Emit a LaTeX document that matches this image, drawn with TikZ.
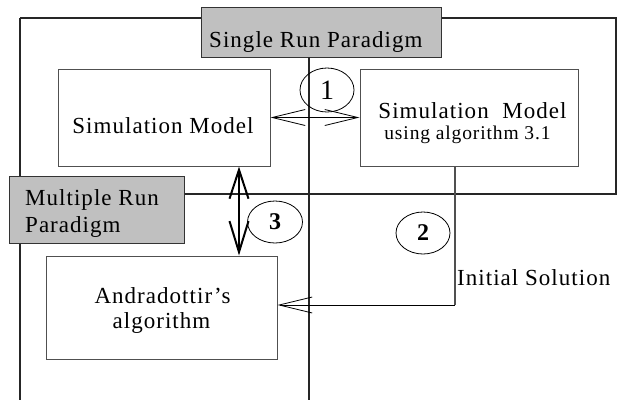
\documentclass[tikz,border=0pt]{standalone}
\usepackage{fontspec}
\setmainfont{Liberation Serif}[LetterSpace=4.5]
\usetikzlibrary{arrows.meta,shapes.geometric}
\definecolor{boxgray}{HTML}{C0C0C0}
\definecolor{edgegray}{HTML}{505050}
\begin{document}
\begin{tikzpicture}[x=1pt,y=-1pt,
  frameline/.style={draw=black!85, line width=1.1pt},
  whitebox/.style={draw=edgegray, line width=1pt, fill=white, inner sep=0pt},
  graybox/.style={draw=black!80, line width=1pt, fill=boxgray, inner sep=0pt},
  txt/.style={inner sep=0pt, font=\fontsize{23}{27}\selectfont},
  smalltxt/.style={inner sep=0pt, font=\fontsize{19.5}{23}\selectfont},
  numcirc/.style={ellipse, draw=black, line width=0.8pt, inner sep=0pt},
  thinarrow/.style={draw=black, line width=0.8pt, -{Straight Barb[length=33pt,width=16pt,line width=0.8pt]}},
  thinboth/.style={draw=black, line width=0.8pt, {Straight Barb[length=33pt,width=16pt,line width=0.8pt]}-{Straight Barb[length=33pt,width=16pt,line width=0.8pt]}},
  thickboth/.style={draw=black, line width=2pt, {Straight Barb[length=29pt,width=19pt,line width=2pt]}-{Straight Barb[length=31pt,width=19pt,line width=2pt]}}
]
\useasboundingbox (0,0) rectangle (621,400);

% frame corner coordinates
\coordinate (tl) at (20,18);
\coordinate (tr) at (616,18);
\coordinate (br) at (616,194);
\coordinate (bl) at (20,400);
\coordinate (mbot) at (309,400);

% outer frame lines
\draw[frameline] (tl) -- (tr) -- (br) -- (br -| tl);
\draw[frameline] (tl) -- (bl);

% paradigm boxes
\node[graybox, minimum width=240pt, minimum height=50pt] (srp) at (321,32) {};
\node[txt, anchor=base west] (srpT) at (209,47) {Single Run Paradigm};
\node[graybox, minimum width=175pt, minimum height=67pt] (mrp) at (96.5,209.5) {};
\node[txt, anchor=base west] (mrpT1) at (25,205) {Multiple Run};
\node[txt, anchor=base west] (mrpT2) at (25,232) {Paradigm};

% middle divider
\coordinate (mtop) at (309,57);
\draw[frameline] (mtop) -- (mbot);

% content boxes
\node[whitebox, minimum width=212pt, minimum height=97pt] (sim) at (164,117.5) {};
\node[txt, anchor=base] (simT) at (163,133) {Simulation Model};
\node[whitebox, minimum width=218pt, minimum height=97pt] (simR) at (469,117.5) {};
\node[txt, anchor=base] (simRT1) at (472.5,118) {Simulation\ \ Model};
\node[smalltxt, anchor=base] (simRT2) at (467.5,139) {using algorithm 3.1};
\node[whitebox, minimum width=231pt, minimum height=103pt] (andr) at (161.5,307.5) {};
\node[txt, anchor=base] (andrT1) at (162.5,303) {Andradottir’s};
\node[txt, anchor=base] (andrT2) at (161.5,328) {algorithm};

% connector 1 (double arrow between simulation models)
\draw[thinboth] (sim.east) -- (simR.west);

% connector 3 (thick double arrow)
\draw[thickboth] ([xshift=75pt]sim.south) -- ([xshift=77.5pt]andr.north);

% connector 2 (initial solution)
\coordinate (corner) at (455,305);
\draw[draw=edgegray, line width=1.4pt] ([xshift=-14pt]simR.south) -- (corner);
\draw[thinarrow] (corner) -- (andr.east |- corner);
\node[txt, anchor=base west] (initT) at (457,285) {Initial Solution};

% numbered ellipses
\node[numcirc, minimum width=54pt, minimum height=44pt, font=\fontsize{28}{28}\selectfont] (c1) at (327,90) {1};
\node[numcirc, minimum width=55pt, minimum height=42pt, font=\bfseries\fontsize{24}{24}\selectfont] (c3) at (275,222) {3};
\node[numcirc, minimum width=54pt, minimum height=42pt, font=\bfseries\fontsize{24}{24}\selectfont] (c2) at (423,233) {2};
\end{tikzpicture}
\end{document}
